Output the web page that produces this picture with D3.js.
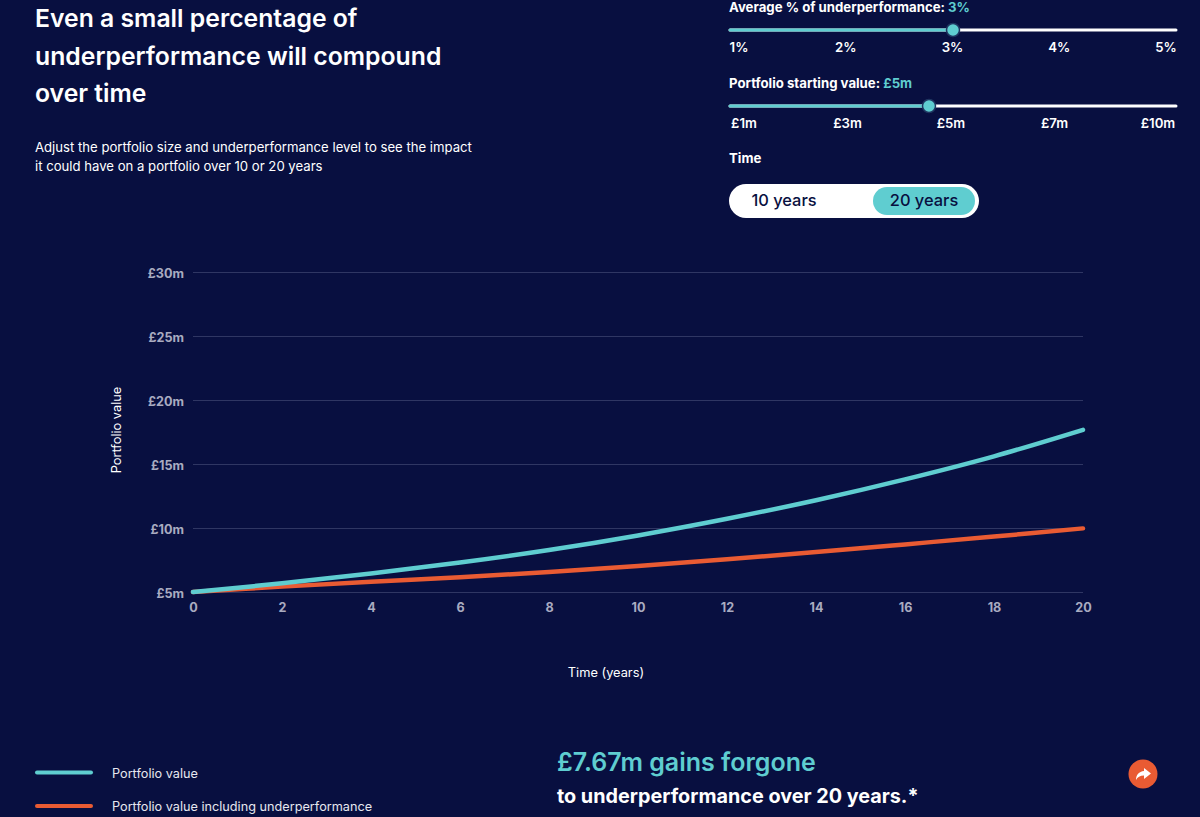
<!DOCTYPE html>
<html>
<head>
<meta charset="utf-8">
<script src="https://cdn.jsdelivr.net/npm/d3@7"></script>
<style>
  html, body { margin: 0; padding: 0; background: #080f40; overflow: hidden; }
  text { font-family: Inter, "Noto Sans", sans-serif; fill: #fff; }
  .axis text { fill: #a9abc0; font-weight: 700; font-size: 12.6px; }
  .axis path, .axis line { display: none; }
  .grid line { stroke: #2f3663; stroke-width: 1; }
  .slider-tick { font-size: 13.2px; font-weight: 600; text-anchor: middle; }
  .slider-label { font-size: 13.2px; font-weight: 700; }
</style>
</head>
<body>
<div id="container"></div>
<script>
const w = 1200,
    h = 817,
    teal = "#5fcdd0",
    orange = "#e95b33",
    bg = "#080f40";

// chart values
const years = [0, 2, 4, 6, 8, 10, 12, 14, 16, 18, 20];
const portfolioValue = [5, 5.68, 6.44, 7.3, 8.28, 9.42, 10.72, 12.17, 13.8, 15.6, 17.67];
const underperformanceValue = [5, 5.42, 5.8, 6.15, 6.56, 7.03, 7.55, 8.12, 8.72, 9.33, 9.97];
const yTicks = [5, 10, 15, 20, 25, 30];
const xTicks = [0, 2, 4, 6, 8, 10, 12, 14, 16, 18, 20];

// controls
const titleLines = ["Even a small percentage of", "underperformance will compound", "over time"];
const introLines = ["Adjust the portfolio size and underperformance level to see the impact", "it could have on a portfolio over 10 or 20 years"];
const pctLabels = ["1%", "2%", "3%", "4%", "5%"];
const startLabels = ["£1m", "£3m", "£5m", "£7m", "£10m"];
const legendLabels = ["Portfolio value", "Portfolio value including underperformance"];

var svg = d3.select("#container")
    .append("svg")
    .attr("width", w)
    .attr("height", h)
    .attr("viewBox", "0 0 " + w + " " + h)
    .style("display", "block")
    .style("background-color", bg);

// header
svg.append("g").selectAll("text")
    .data(titleLines)
    .enter().append("text")
    .attr("x", 35)
    .attr("y", (d, i) => 27 + i * 37.5)
    .style("font-size", "24.75px")
    .style("font-weight", "600")
    .text(d => d);

svg.append("g").selectAll("text")
    .data(introLines)
    .enter().append("text")
    .attr("x", 35)
    .attr("y", (d, i) => 152 + i * 19)
    .style("font-size", "13.15px")
    .text(d => d);

// sliders
function addSlider(top, label, value, ticks, tickRange, handleX) {
    var g = svg.append("g").attr("transform", "translate(0," + top + ")");
    var t = g.append("text").attr("class", "slider-label").attr("x", 729).attr("y", 0).text(label + " ");
    t.append("tspan").style("fill", teal).text(value);
    var x = d3.scalePoint().domain(ticks).range(tickRange);
    g.append("line").attr("x1", 730).attr("x2", 1176).attr("y1", 18).attr("y2", 18)
        .attr("stroke", "#fff").attr("stroke-width", 3).attr("stroke-linecap", "round");
    g.append("line").attr("x1", 730).attr("x2", handleX).attr("y1", 18).attr("y2", 18)
        .attr("stroke", teal).attr("stroke-width", 3).attr("stroke-linecap", "round");
    g.append("circle").attr("cx", handleX).attr("cy", 18).attr("r", 6.5)
        .attr("fill", teal).attr("stroke", "#1f3560").attr("stroke-width", 1.5);
    g.selectAll(".slider-tick")
        .data(ticks)
        .enter().append("text")
        .attr("class", "slider-tick")
        .attr("x", d => x(d))
        .attr("y", 40)
        .text(d => d);
}
addSlider(12, "Average % of underperformance:", "3%", pctLabels, [739, 1166], 953);
addSlider(88, "Portfolio starting value:", "£5m", startLabels, [744, 1158], 929);

svg.append("text").attr("class", "slider-label").attr("x", 729).attr("y", 163).text("Time");

// time toggle
svg.append("rect").attr("x", 729).attr("y", 184).attr("width", 250).attr("height", 34).attr("rx", 17).attr("fill", "#fff");
svg.append("rect").attr("x", 873).attr("y", 187).attr("width", 102).attr("height", 28).attr("rx", 14).attr("fill", teal);
svg.append("text").attr("x", 784).attr("y", 206).attr("text-anchor", "middle")
    .style("fill", bg).style("font-size", "16.4px").style("font-weight", "500").text("10 years");
svg.append("text").attr("x", 924).attr("y", 206).attr("text-anchor", "middle")
    .style("fill", bg).style("font-size", "16.4px").style("font-weight", "500").text("20 years");

// chart
var x = d3.scaleLinear().domain([0, 20]).range([193, 1083]);
var y = d3.scaleLinear().domain([5, 30]).range([592, 272]);

svg.append("g").attr("class", "grid")
    .selectAll("line")
    .data(yTicks)
    .enter().append("line")
    .attr("x1", x(0))
    .attr("x2", x(20))
    .attr("y1", d => y(d) + 0.5)
    .attr("y2", d => y(d) + 0.5);

svg.append("g")
    .attr("class", "axis")
    .attr("transform", "translate(" + x(0) + ",0)")
    .call(d3.axisLeft(y).tickValues(yTicks).tickFormat(d => "£" + d + "m").tickSize(0).tickPadding(9))
    .selectAll("text").attr("dy", "0.45em");

svg.append("g")
    .attr("class", "axis")
    .attr("transform", "translate(0," + y(5) + ")")
    .call(d3.axisBottom(x).tickValues(xTicks).tickSize(0).tickPadding(11));

svg.append("text")
    .attr("transform", "translate(121,430) rotate(-90)")
    .attr("text-anchor", "middle")
    .style("font-size", "12.8px")
    .text("Portfolio value");

svg.append("text")
    .attr("x", 606)
    .attr("y", 677)
    .attr("text-anchor", "middle")
    .style("font-size", "12.8px")
    .text("Time (years)");

var line = d3.line()
    .x(d => x(d[0]))
    .y(d => y(d[1]))
    .curve(d3.curveCatmullRom);

svg.append("path")
    .datum(d3.zip(years, underperformanceValue))
    .attr("fill", "none")
    .attr("stroke", orange)
    .attr("stroke-width", 4.5)
    .attr("stroke-linecap", "round")
    .attr("d", line);

svg.append("path")
    .datum(d3.zip(years, portfolioValue))
    .attr("fill", "none")
    .attr("stroke", teal)
    .attr("stroke-width", 4.5)
    .attr("stroke-linecap", "round")
    .attr("d", line);

// legend
var legend = svg.append("g").selectAll("g")
    .data(legendLabels)
    .enter().append("g")
    .attr("transform", (d, i) => "translate(0," + (772.5 + i * 33.5) + ")");
legend.append("line")
    .attr("x1", 37).attr("x2", 91)
    .attr("stroke", (d, i) => i ? orange : teal)
    .attr("stroke-width", 4)
    .attr("stroke-linecap", "round");
legend.append("text")
    .attr("x", 112).attr("y", 5)
    .style("font-size", "12.7px")
    .style("fill", "#e6e7ef")
    .text(d => d);

// summary
svg.append("text").attr("x", 557).attr("y", 771)
    .style("fill", teal).style("font-size", "25px").style("font-weight", "600")
    .text("£7.67m gains forgone");
svg.append("text").attr("x", 557).attr("y", 803)
    .style("font-size", "19.8px").style("font-weight", "700")
    .text("to underperformance over 20 years.*");

// share button
svg.append("circle").attr("cx", 1143).attr("cy", 774).attr("r", 14.5).attr("fill", orange);
svg.append("path")
    .attr("transform", "translate(1143,774)")
    .attr("fill", "#fff")
    .attr("d", "M1,-6 L8,-0.5 L1,5 L1,1.5 C-3,1.5 -5.5,3 -7,6 C-7,1 -4,-2.5 1,-3 Z");
</script>
</body>
</html>
